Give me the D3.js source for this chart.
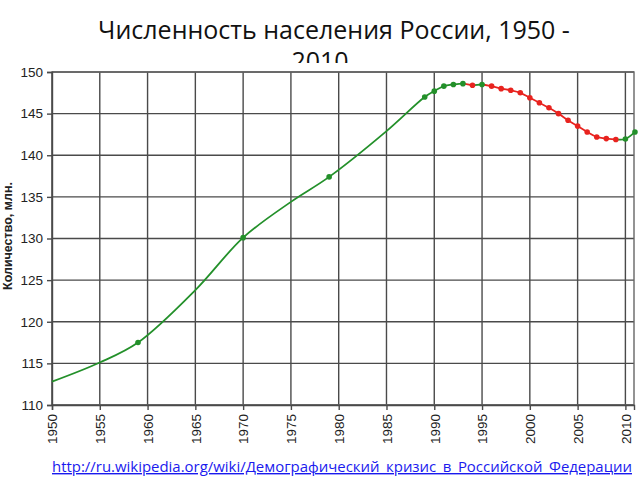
<!DOCTYPE html>
<html><head><meta charset="utf-8">
<script src="https://cdn.jsdelivr.net/npm/d3@7"></script>
<style>body{margin:0;background:#fff}svg{display:block}</style>
</head><body>
<svg id="c" width="640" height="480"></svg>
<script>
const titleLines = ["Численность населения России, 1950 -", "2010"];
const yLabel = "Количество, млн.";
const sourceUrl = "http://ru.wikipedia.org/wiki/Демографический_кризис_в_Российской_Федерации";
const years = [1950,1955,1959,1965,1970,1975,1979,1985,1989,1990,1991,1992,1993,1994,1995,1996,1997,1998,1999,2000,2001,2002,2003,2004,2005,2006,2007,2008,2009,2010,2011];
const population = [112.8,115.1,117.5,123.8,130.1,134.4,137.4,142.9,147.0,147.7,148.3,148.5,148.6,148.4,148.5,148.3,148.0,147.8,147.5,146.9,146.3,145.7,145.0,144.2,143.5,142.8,142.2,142.0,141.9,141.95,142.8];
const markerYears = [1959,1970,1979,1989,1990,1991,1992,1993,1994,1995,1996,1997,1998,1999,2000,2001,2002,2003,2004,2005,2006,2007,2008,2009,2010,2011];
const xTicks = [1950,1955,1960,1965,1970,1975,1980,1985,1990,1995,2000,2005,2010];
const yTicks = [110,115,120,125,130,135,140,145,150];

const GREEN = "#23902a", RED = "#e8231f";
const svg = d3.select("#c");
const data = years.map((y,i)=>({year:y, value:population[i]}));

svg.append("text").attr("x",334).attr("y",39).attr("text-anchor","middle")
  .attr("font-family","Open Sans, Noto Sans, sans-serif").attr("font-size",25).attr("fill","#111")
  .text(titleLines[0]);
svg.append("text").attr("x",320).attr("y",70).attr("text-anchor","middle")
  .attr("font-family","Open Sans, Noto Sans, sans-serif").attr("font-size",25).attr("fill","#111")
  .text(titleLines[1]);
svg.append("rect").attr("x",0).attr("y",63).attr("width",640).attr("height",417).attr("fill","#fff");

const x = d3.scaleLinear().domain([1950, 2010.9]).range([52, 634]);
const y = d3.scaleLinear().domain([110, 150]).range([405, 72]);

const g = svg.append("g");
g.selectAll(".vg").data(xTicks).join("line")
  .attr("x1",d=>x(d)).attr("x2",d=>x(d)).attr("y1",y(150)).attr("y2",y(110))
  .attr("stroke","#4a4a4a").attr("stroke-width",1.4);
g.selectAll(".hg").data(yTicks).join("line")
  .attr("x1",x(1950)).attr("x2",x.range()[1]).attr("y1",d=>y(d)).attr("y2",d=>y(d))
  .attr("stroke","#4a4a4a").attr("stroke-width",1.4);
g.append("rect").attr("x",x(1950)).attr("y",y(150)).attr("width",x.range()[1]-x(1950)).attr("height",y(110)-y(150))
  .attr("fill","none").attr("stroke","#666").attr("stroke-width",1.4);

const yAxis = d3.axisLeft(y).tickValues(yTicks).tickSize(5).tickPadding(4);
const ya = svg.append("g").attr("transform",`translate(${x(1950)},0)`).call(yAxis);
ya.select(".domain").attr("stroke","#4a4a4a").attr("stroke-width",1.4);
ya.selectAll(".tick line").attr("stroke","#4a4a4a").attr("stroke-width",1.4);
ya.selectAll("text").attr("font-family","Liberation Sans, Arial, sans-serif").attr("font-size",13.5).attr("fill","#222");

const xAxis = d3.axisBottom(x).tickValues(xTicks).tickSize(5).tickFormat(d3.format("d"));
const xa = svg.append("g").attr("transform",`translate(0,${y(110)})`).call(xAxis);
xa.select(".domain").attr("stroke","#4a4a4a").attr("stroke-width",1.4);
xa.selectAll(".tick line").attr("stroke","#4a4a4a").attr("stroke-width",1.4);
xa.selectAll("text").attr("font-family","Liberation Sans, Arial, sans-serif").attr("font-size",13.5).attr("fill","#222")
  .attr("transform","rotate(-90)").attr("text-anchor","end").attr("dy","0.35em").attr("x",-9).attr("y",0);

svg.append("text").attr("transform","translate(12,236) rotate(-90)").attr("text-anchor","middle")
  .attr("font-family","Liberation Sans, Arial, sans-serif").attr("font-weight","bold").attr("font-size",12.5).attr("fill","#222")
  .text(yLabel);

const defs = svg.append("defs");
const grad = defs.append("linearGradient").attr("id","seg").attr("gradientUnits","userSpaceOnUse")
  .attr("x1",x(years[0])).attr("x2",x(years[years.length-1])).attr("y1",0).attr("y2",0);
const x0 = x(years[0]), span = x(years[years.length-1]) - x0;
for (let i=0;i<data.length-1;i++){
  const c = data[i+1].value >= data[i].value ? GREEN : RED;
  grad.append("stop").attr("offset",(x(data[i].year)-x0)/span).attr("stop-color",c);
  grad.append("stop").attr("offset",(x(data[i+1].year)-x0)/span).attr("stop-color",c);
}
const line = d3.line().x(d=>x(d.year)).y(d=>y(d.value)).curve(d3.curveCatmullRom.alpha(0.5));
svg.append("path").datum(data).attr("d",line).attr("fill","none").attr("stroke","url(#seg)").attr("stroke-width",1.8);

const markers = data.filter(d=>markerYears.includes(d.year));
svg.selectAll(".dot").data(markers).join("circle")
  .attr("cx",d=>x(d.year)).attr("cy",d=>y(d.value)).attr("r",2.8)
  .attr("fill",d=>{const i=years.indexOf(d.year); return (i===0 || data[i].value>=data[i-1].value)?GREEN:RED;});

svg.append("text").attr("x",52).attr("y",472)
  .attr("font-family","Open Sans, Noto Sans, sans-serif").attr("font-size",14).attr("fill","#1a1aee")
  .attr("text-decoration","underline").attr("textLength",580).attr("lengthAdjust","spacingAndGlyphs")
  .text(sourceUrl);
</script>
</body></html>
